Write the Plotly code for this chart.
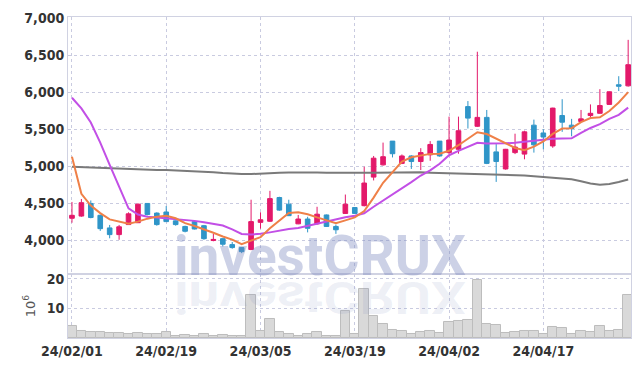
import plotly.graph_objects as go

dates = ["24/02/01","24/02/02","24/02/05","24/02/06","24/02/07","24/02/08","24/02/13","24/02/14","24/02/15","24/02/16",
         "24/02/19","24/02/20","24/02/21","24/02/22","24/02/23","24/02/26","24/02/27","24/02/28","24/02/29","24/03/04",
         "24/03/05","24/03/06","24/03/07","24/03/08","24/03/11","24/03/12","24/03/13","24/03/14","24/03/15","24/03/18",
         "24/03/19","24/03/20","24/03/21","24/03/22","24/03/25","24/03/26","24/03/27","24/03/28","24/03/29","24/04/01",
         "24/04/02","24/04/03","24/04/04","24/04/05","24/04/08","24/04/09","24/04/11","24/04/12","24/04/15","24/04/16",
         "24/04/17","24/04/18","24/04/19","24/04/22","24/04/23","24/04/24","24/04/25","24/04/26","24/04/29","24/04/30"]

open_ = [4300,4330,4500,4340,4170,4080,4215,4240,4500,4370,
         4385,4265,4190,4255,4200,4000,4025,3945,3905,3880,
         4245,4260,4580,4490,4225,4290,4225,4345,4190,4365,
         4445,4470,4855,5020,5340,5040,5140,5065,5155,5340,
         5185,5230,5805,5540,5660,5195,4965,5185,5165,5555,
         5450,5275,5685,5555,5605,5685,5715,5835,6100,6085]
high = [4520,4560,4540,4350,4210,4210,4380,4500,4500,4380,
        4465,4270,4200,4270,4210,4090,4030,3980,3910,4550,
        4380,4670,4590,4550,4345,4320,4455,4350,4215,4620,
        4450,4995,5140,5320,5340,5160,5150,5245,5340,5340,
        5670,5670,5880,6545,5760,5300,5235,5440,5480,5630,
        5500,5790,5905,5640,5760,5835,6040,6010,6215,6705]
low = [4240,4320,4300,4130,4030,4010,4210,4240,4340,4200,
       4250,4200,4110,4150,4010,3990,3920,3890,3830,3870,
       4160,4250,4400,4330,4220,4110,4215,4185,4090,4360,
       4360,4460,4810,5010,5120,5030,4965,4950,5075,5130,
       5165,5170,5510,5530,5030,4790,4955,5165,5095,5185,
       5230,5250,5465,5405,5600,5640,5710,5830,6015,6075]
close = [4340,4510,4310,4160,4080,4185,4360,4490,4350,4215,
         4255,4215,4125,4155,4025,4015,3950,3905,3850,4255,
         4280,4565,4410,4335,4290,4165,4355,4190,4145,4490,
         4365,4775,5110,5130,5170,5140,5065,5185,5295,5140,
         5355,5480,5650,5660,5040,5065,5230,5260,5465,5290,
         5395,5785,5595,5510,5640,5715,5820,6005,6080,6370]

ma_short = [5130,4630,4470,4370,4285,4252,4225,4255,4295,4322,
            4334,4300,4235,4195,4152,4105,4055,4012,3952,3998,
            4046,4165,4275,4372,4380,4355,4312,4270,4235,4272,
            4312,4398,4578,4778,4920,5065,5122,5142,5168,5170,
            5210,5285,5375,5460,5435,5372,5320,5248,5218,5266,
            5335,5438,5510,5515,5595,5652,5662,5745,5860,6000]
ma_mid = [5924,5782,5590,5320,5020,4730,4434,4350,4320,4310,
          4300,4290,4280,4265,4245,4222,4203,4150,4088,4082,
          4090,4110,4137,4155,4170,4199,4226,4256,4288,4314,
          4335,4368,4455,4537,4612,4700,4787,4876,4945,5035,
          5150,5208,5261,5318,5308,5305,5310,5318,5331,5349,
          5363,5372,5375,5378,5450,5517,5570,5641,5694,5792]
ma_long = [4995,4990,4985,4978,4968,4962,4958,4955,4953,4951,
           4950,4946,4942,4935,4928,4920,4910,4900,4897,4896,
           4898,4905,4912,4918,4920,4920,4918,4915,4912,4911,
           4911,4912,4914,4916,4918,4920,4920,4920,4915,4911,
           4911,4908,4905,4902,4898,4895,4890,4885,4878,4866,
           4855,4850,4835,4825,4800,4770,4752,4762,4788,4823]

volume = [4.0,2.3,2.0,2.0,1.7,1.7,1.3,1.7,1.3,1.3,
          2.0,0.7,1.0,0.7,1.3,0.7,1.0,0.7,0.7,14.6,
          2.3,6.4,2.0,1.3,0.7,1.3,2.0,0.7,0.7,9.3,
          1.3,16.6,7.6,4.6,2.7,2.3,1.3,2.0,2.3,1.7,
          5.3,5.6,6.0,19.6,4.6,4.3,1.7,2.0,2.3,2.3,
          1.3,3.6,3.3,1.3,2.3,2.0,4.0,2.3,2.7,14.6]

price_ticks = [4000, 4500, 5000, 5500, 6000, 6500, 7000]
price_labels = ["4,000", "4,500", "5,000", "5,500", "6,000", "6,500", "7,000"]
date_ticks = ["24/02/01", "24/02/19", "24/03/05", "24/03/19", "24/04/02", "24/04/17"]
vol_ticks = [10, 20]

UP = "#e3196a"
DOWN = "#2f95c8"
GRID = "#c9cbe0"
BORDER = "#d0d2e2"
tickfont = dict(family="DejaVu Sans Condensed, Liberation Sans Narrow, Liberation Sans, sans-serif",
                size=14, color="#333333", weight="bold")
wmfont = "Roboto, Liberation Sans, sans-serif"

fig = go.Figure()
fig.add_trace(go.Bar(x=dates, y=volume, xaxis="x2", yaxis="y2",
                     marker=dict(color="#d9d9d9", line=dict(color="#bdbdbd", width=1))))
fig.add_trace(go.Scatter(x=dates, y=ma_long, mode="lines", line=dict(color="#7a7a7a", width=2)))
fig.add_trace(go.Candlestick(x=dates, open=open_, high=high, low=low, close=close,
                             increasing=dict(line=dict(color=UP, width=1), fillcolor=UP),
                             decreasing=dict(line=dict(color=DOWN, width=1), fillcolor=DOWN),
                             whiskerwidth=0))
fig.add_trace(go.Scatter(x=dates, y=ma_mid, mode="lines", line=dict(color="#c24fe6", width=2)))
fig.add_trace(go.Scatter(x=dates, y=ma_short, mode="lines", line=dict(color="#ef8048", width=2)))

xrange = [-0.42, 59.3]
fig.update_layout(
    width=642, height=369,
    margin=dict(l=68, r=10, t=14, b=29),
    paper_bgcolor="white", plot_bgcolor="white",
    showlegend=False, bargap=0,
    xaxis=dict(type="category", range=xrange, domain=[0, 1], anchor="y",
               rangeslider=dict(visible=False), showticklabels=False,
               tickmode="array", tickvals=date_ticks,
               showgrid=True, gridcolor=GRID, griddash="dot", gridwidth=1,
               showline=True, linecolor=BORDER, mirror=True, zeroline=False),
    yaxis=dict(domain=[0.1994, 1], range=[3549, 7013], tickmode="array",
               tickvals=price_ticks, ticktext=price_labels, tickfont=tickfont,
               showgrid=True, gridcolor=GRID, griddash="dot", gridwidth=1,
               showline=True, linecolor=BORDER, mirror=True, zeroline=False),
    xaxis2=dict(type="category", range=xrange, domain=[0, 1], anchor="y2", matches="x",
                tickmode="array", tickvals=date_ticks, tickfont=tickfont,
                showgrid=True, gridcolor=GRID, griddash="dot", gridwidth=1,
                showline=True, linecolor=BORDER, mirror=True, zeroline=False, ticks=""),
    yaxis2=dict(domain=[0, 0.1994], range=[0, 21.67], tickmode="array",
                tickvals=vol_ticks, tickfont=tickfont,
                title=dict(text="10<sup>6</sup>", font=dict(family="DejaVu Sans", size=13, color="#555555"), standoff=8),
                showgrid=True, gridcolor=GRID, griddash="dot", gridwidth=1,
                showline=True, linecolor=BORDER, mirror=True, zeroline=False),
    annotations=[
        dict(text="investCRUX", xref="paper", yref="paper", x=0.447, y=0.255, xanchor="center", yanchor="middle",
             showarrow=False, font=dict(family=wmfont, size=55, color="rgba(120,135,190,0.38)", weight="bold")),
        dict(text="investCRUX", xref="paper", yref="paper", x=0.447, y=0.128, xanchor="center", yanchor="middle",
             showarrow=False, font=dict(family=wmfont, size=55, color="rgba(120,135,190,0.13)", weight="bold")),
    ],
)

post = """
var gd = document.getElementById('{plot_id}');
var anns = gd.querySelectorAll('g.annotation');
if (anns.length > 1) {
  var t = anns[1].querySelector('text');
  t.style.transformBox = 'fill-box';
  t.style.transformOrigin = 'center';
  t.style.transform = 'scaleY(-0.8)';
}
"""
fig.write_html("out.html", post_script=post)
